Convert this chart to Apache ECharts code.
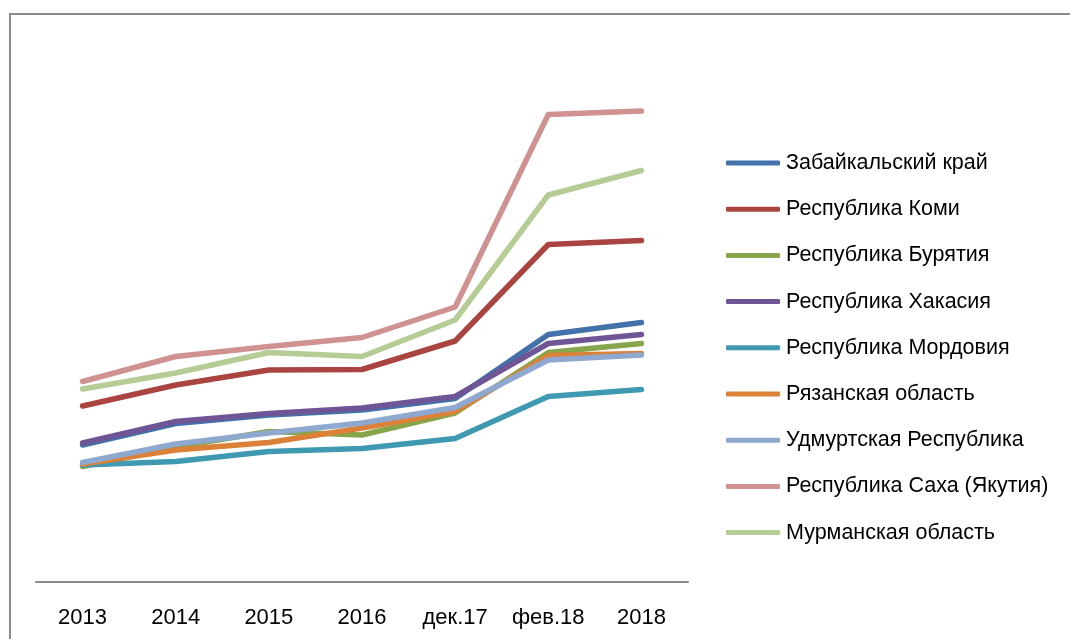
<!DOCTYPE html>
<html>
<head>
<meta charset="utf-8">
<script src="https://cdn.jsdelivr.net/npm/echarts@6/dist/echarts.min.js"></script>
<style>
html,body{margin:0;padding:0;background:#fff;}
#chart{width:1070px;height:639px;}
</style>
</head>
<body>
<div id="chart"></div>
<script>
var categories = ['2013', '2014', '2015', '2016', 'дек.17', 'фев.18', '2018'];

var zabaikalsky = [27.4, 31.7, 33.4, 34.4, 36.7, 49.5, 51.9];
var komi = [35.2, 39.4, 42.4, 42.5, 48.2, 67.5, 68.3];
var buryatia = [23.1, 27.0, 30.1, 29.4, 33.8, 45.9, 47.7];
var khakasia = [27.8, 32.1, 33.7, 34.8, 37.1, 47.7, 49.5];
var mordovia = [23.4, 24.1, 26.1, 26.7, 28.7, 37.1, 38.5];
var ryazan = [23.6, 26.4, 27.9, 30.8, 34.1, 45.3, 45.7];
var udmurtia = [23.9, 27.6, 29.8, 31.8, 34.9, 44.4, 45.4];
var sakha = [40.1, 45.1, 47.1, 48.9, 55.0, 93.5, 94.2];
var murmansk = [38.6, 41.8, 45.9, 45.1, 52.4, 77.4, 82.3];

var seriesNames = ['Забайкальский край', 'Республика Коми', 'Республика Бурятия', 'Республика Хакасия', 'Республика Мордовия', 'Рязанская область', 'Удмуртская Республика', 'Республика Саха (Якутия)', 'Мурманская область'];
var seriesData = [zabaikalsky, komi, buryatia, khakasia, mordovia, ryazan, udmurtia, sakha, murmansk];
var colors = ['#4371A9', '#A94441', '#87A64B', '#6F5596', '#3F99B1', '#DB8138', '#8EA8CF', '#D09191', '#B5CC94'];

var chart = echarts.init(document.getElementById('chart'), null, {renderer: 'canvas'});
var font = 'Liberation Sans';

var option = {
  animation: false,
  backgroundColor: '#ffffff',
  color: colors,
  graphic: [{
    type: 'rect',
    silent: true,
    shape: {x: 10, y: 14, width: 1200, height: 800},
    style: {fill: 'none', stroke: '#8a8a8a', lineWidth: 2}
  }],
  grid: {left: 36, right: 382, top: 82, bottom: 57, containLabel: false},
  legend: {
    orient: 'vertical',
    left: 721,
    top: 147,
    itemWidth: 54,
    itemHeight: 5,
    itemGap: 24.2,
    icon: 'roundRect',
    textStyle: {fontFamily: font, fontSize: 21.5, color: '#000', lineHeight: 22, padding: [0, 0, 0, 1]},
    data: seriesNames
  },
  xAxis: {
    type: 'category',
    data: categories,
    boundaryGap: true,
    axisLine: {show: true, lineStyle: {color: '#8a8a8a', width: 2}},
    axisTick: {show: false},
    axisLabel: {interval: 0, fontFamily: font, fontSize: 22, color: '#000', margin: 25}
  },
  yAxis: {
    type: 'value',
    min: 0,
    max: 100,
    show: false
  },
  series: seriesNames.map(function (name, i) {
    return {
      name: name,
      type: 'line',
      data: seriesData[i],
      showSymbol: false,
      symbol: 'none',
      smooth: false,
      lineStyle: {width: 5.5, color: colors[i], cap: 'round', join: 'round'},
      itemStyle: {color: colors[i]}
    };
  })
};
chart.setOption(option);
</script>
</body>
</html>
